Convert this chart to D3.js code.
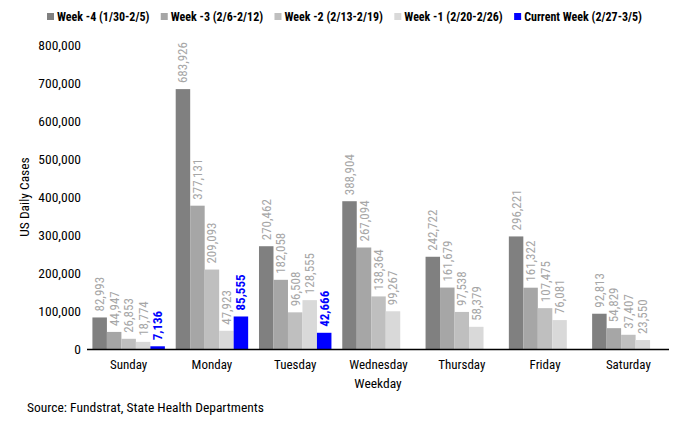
<!DOCTYPE html>
<html>
<head>
<meta charset="utf-8">
<script src="https://cdn.jsdelivr.net/npm/d3@7"></script>
<style>
  body { margin: 0; background: #fff; }
  text { font-family: "Liberation Sans Narrow", "Arial Narrow", "Roboto Condensed", sans-serif; }
</style>
</head>
<body>
<svg id="chart" width="681" height="423"></svg>
<script>
var days = ["Sunday", "Monday", "Tuesday", "Wednesday", "Thursday", "Friday", "Saturday"];
var weeks = ["Week -4 (1/30-2/5)", "Week -3 (2/6-2/12)", "Week -2 (2/13-2/19)", "Week -1 (2/20-2/26)", "Current Week (2/27-3/5)"];
var week4 = [82993, 683926, 270462, 388904, 242722, 296221, 92813];
var week3 = [44947, 377131, 182058, 267094, 161679, 161322, 54829];
var week2 = [26853, 209093, 96508, 138364, 97538, 107475, 37407];
var week1 = [18774, 47923, 128555, 99267, 58379, 76081, 23550];
var current = [7136, 85555, 42666, null, null, null, null];
var yTicks = [0, 100000, 200000, 300000, 400000, 500000, 600000, 700000, 800000];
var colors = ["#808080", "#a6a6a6", "#bfbfbf", "#d9d9d9", "#0000ff"];

var series = [week4, week3, week2, week1, current];
var svg = d3.select("#chart");

var x = d3.scaleBand().domain(days).range([87, 670]).paddingInner(0.13).paddingOuter(0.065);
var x1 = d3.scaleBand().domain(d3.range(5)).range([0, x.bandwidth()]);
var y = d3.scaleLinear().domain([0, 800000]).range([349, 45]);
var fmt = d3.format(",");

// y axis labels
svg.append("g").selectAll("text")
  .data(yTicks).enter().append("text")
  .attr("x", 81).attr("y", function(d) { return y(d); })
  .attr("dy", "0.35em").attr("text-anchor", "end")
  .attr("font-size", 13.5).attr("fill", "#000")
  .text(function(d) { return fmt(d); });

svg.append("text")
  .attr("transform", "translate(29,197) rotate(-90)")
  .attr("text-anchor", "middle").attr("font-size", 13.5)
  .text("US Daily Cases");

// bars
for (var s = 0; s < series.length; s++) {
  var g = svg.append("g");
  var vals = series[s].map(function(v, i) { return { day: days[i], v: v }; })
    .filter(function(d) { return d.v != null; });
  g.selectAll("rect").data(vals).enter().append("rect")
    .attr("x", function(d) { return x(d.day) + x1(s); })
    .attr("y", function(d) { return y(d.v); })
    .attr("width", x1.bandwidth())
    .attr("height", function(d) { return y(0) - y(d.v); })
    .attr("fill", colors[s]);
  g.selectAll("text").data(vals).enter().append("text")
    .attr("transform", function(d) {
      return "translate(" + (x(d.day) + x1(s) + x1.bandwidth() / 2 + 4.5) + "," + (y(d.v) - 6) + ") rotate(-90)";
    })
    .attr("font-size", 13)
    .attr("font-weight", s == 4 ? "bold" : "normal")
    .attr("fill", s == 4 ? "#0000ff" : "#a6a6a6")
    .text(function(d) { return fmt(d.v); });
}

// x axis
svg.append("line").attr("x1", 87).attr("x2", 669).attr("y1", 349.5).attr("y2", 349.5)
  .attr("stroke", "#000").attr("stroke-width", 1.3);
svg.append("g").selectAll("text").data(days).enter().append("text")
  .attr("x", function(d) { return x(d) + x.bandwidth() / 2; })
  .attr("y", 369).attr("text-anchor", "middle").attr("font-size", 13)
  .text(function(d) { return d; });
svg.append("text").attr("x", 378).attr("y", 388).attr("text-anchor", "middle")
  .attr("font-size", 13.5).text("Weekday");

// legend - lay items out by measured width, spread over 47..642
var leg = svg.append("g").selectAll("g").data(weeks).enter().append("g");
leg.append("rect").attr("x", 0).attr("y", -4).attr("width", 7).attr("height", 7)
  .attr("fill", function(d, i) { return colors[i]; });
leg.append("text").attr("x", 10).attr("dy", "0.35em").attr("font-size", 12)
  .attr("font-weight", "bold").text(function(d) { return d; });
var widths = [];
leg.select("text").each(function() { widths.push(10 + this.getComputedTextLength()); });
var gap = (642 - 47 - d3.sum(widths)) / (weeks.length - 1);
var lx = 47;
leg.attr("transform", function(d, i) {
  var t = "translate(" + lx + ",17)";
  lx += widths[i] + gap;
  return t;
});

svg.append("text").attr("x", 27).attr("y", 412).attr("font-size", 13.5)
  .text("Source: Fundstrat, State Health Departments");
</script>
</body>
</html>
